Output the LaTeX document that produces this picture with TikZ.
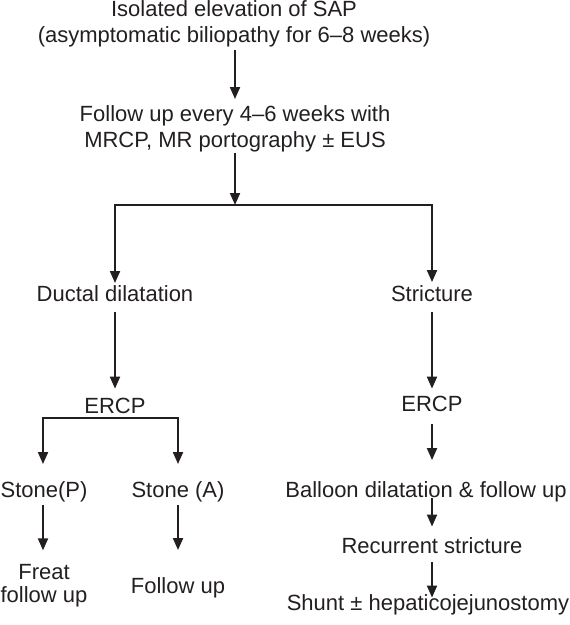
\documentclass[tikz,border=0pt]{standalone}
\usepackage{fontspec}
\setmainfont{Liberation Sans}
\usetikzlibrary{arrows.meta}
\definecolor{ink}{RGB}{35,31,32}
\begin{document}
\begin{tikzpicture}[x=1pt,y=1pt,
  txt/.style={inner sep=0pt, outer sep=0pt, anchor=base, text=ink, align=center,
              font=\fontsize{22}{26}\selectfont},
  ln/.style={line width=1.9pt, draw=ink, line cap=rect},
  arr/.style={line width=1.9pt, draw=ink, -{Triangle[width=10pt,length=12pt]}}]
\useasboundingbox (0,0) rectangle (570,-625);
% texts (base anchor = last line's baseline)
\node[txt] (t1) at (234,-42) {Isolated elevation of SAP\\(asymptomatic biliopathy for 6–8 weeks)};
\node[txt] (t2) at (235,-147) {Follow up every 4–6 weeks with\\MRCP, MR portography ± EUS};
\node[txt] (d1) at (115,-301) {Ductal dilatation};
\node[txt] (s1) at (432,-301) {Stricture};
\node[txt] (e1) at (115,-413) {ERCP};
\node[txt] (e2) at (432,-411) {ERCP};
\node[txt] (st1) at (44,-497) {Stone(P)};
\node[txt] (st2) at (178,-497) {Stone (A)};
\node[txt, font=\fontsize{22}{23}\selectfont] (f1) at (44,-602) {Freat\\follow up};
\node[txt] (f2) at (178,-593) {Follow up};
\node[txt] (b2) at (426,-497) {Balloon dilatation \& follow up};
\node[txt] (r2) at (432,-553) {Recurrent stricture};
\node[txt] (sh) at (428,-610) {Shunt ± hepaticojejunostomy};
% junctions
\coordinate (bc) at (235,-205);
\coordinate (bl) at (115,-205);
\coordinate (br) at (432,-205);
\coordinate (lb1) at (43,-418);
\coordinate (lb2) at (178,-418);
% connectors
\draw[arr, shorten <=3.5pt, shorten >=6pt] (t1.south -| bc) -- (t2.north -| bc);
\draw[arr, shorten <=1.5pt] (t2.south -| bc) -- (bc);
\draw[ln] (bl) -- (br);
\draw[arr, shorten >=2pt] (bl) -- (bl |- d1.north);
\draw[arr, shorten >=3pt] (br) -- (br |- s1.north);
\draw[arr, shorten <=11pt, shorten >=9pt] (d1.south) -- (d1.south |- e1.north);
\draw[arr, shorten <=11pt, shorten >=7pt] (s1.south) -- (s1.south |- e2.north);
\draw[ln] (lb1) -- (lb2);
\draw[arr, shorten >=17pt] (lb1) -- (lb1 |- st1.north);
\draw[arr, shorten >=17pt] (lb2) -- (lb2 |- st2.north);
\draw[arr, shorten <=3.5pt, shorten >=13.5pt] (lb1 |- st1.south) -- (lb1 |- f1.north);
\draw[arr, shorten <=3.5pt, shorten >=27pt] (st2.south) -- (st2.south |- f2.north);
\draw[arr, shorten <=13pt, shorten >=21pt] (e2.south) -- (e2.south |- b2.north);
\draw[arr, shorten <=-3.5pt, shorten >=10.5pt] (e2.south |- b2.south) -- (e2.south |- r2.north);
\draw[arr, shorten <=9pt, shorten >=-3.5pt] (r2.south) -- (r2.south |- sh.north);
\end{tikzpicture}
\end{document}
